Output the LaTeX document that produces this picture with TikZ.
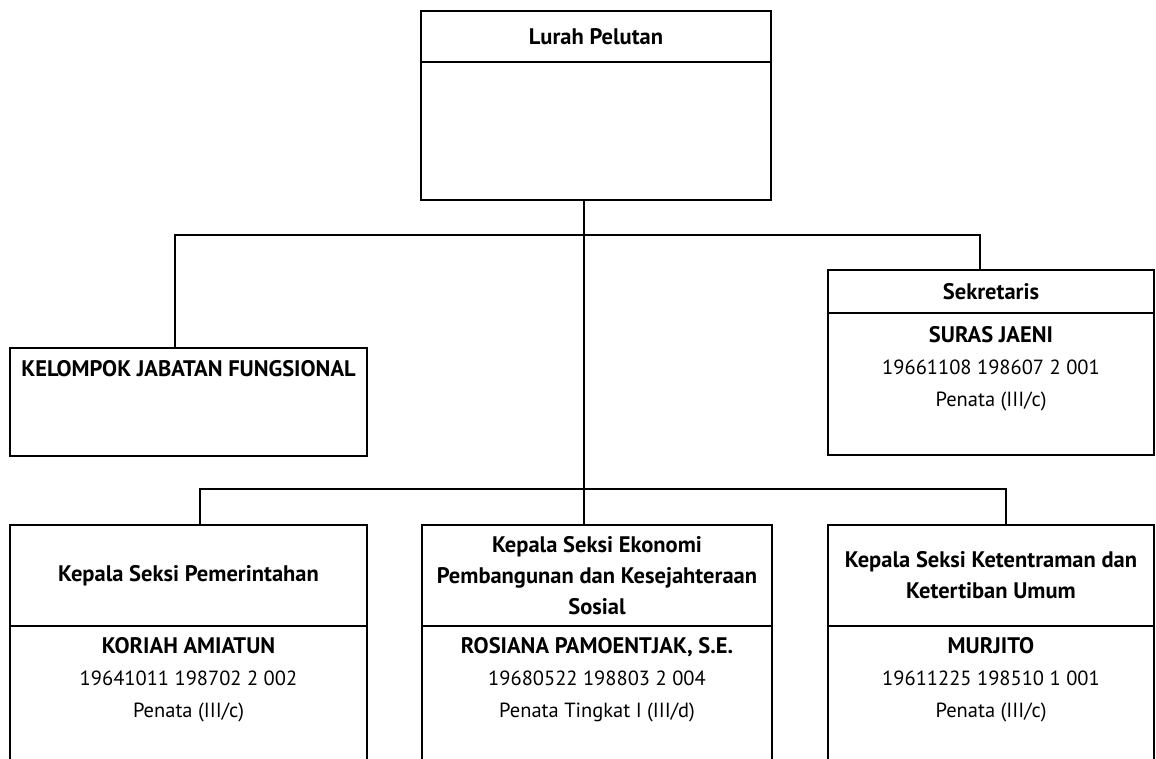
\documentclass[tikz,border=0pt]{standalone}
\usepackage{fontspec}
\setmainfont{PT Sans}
\usetikzlibrary{positioning}
\newcommand{\pname}{\fontsize{22.5}{32}\selectfont\bfseries}

\begin{document}
\begin{tikzpicture}[
    x=1pt, y=-1pt,
    node distance=0pt,
    box/.style={rectangle, draw=black, line width=2.6pt, inner sep=0pt, outer sep=0pt, align=center, font=\fontsize{22.5}{31}\selectfont\bfseries},
    info/.style={align=center, inner sep=0pt, font=\fontsize{20.5}{32}\selectfont},
    link/.style={draw=black, line width=2pt}
]
    \clip (0,0) rectangle (1156,759);

    % Nodes
    \node [box, minimum width=350pt, minimum height=51pt] (lurah) at (596,36.5) {Lurah Pelutan};
    \node [box, minimum width=350pt, minimum height=138pt, below=of lurah] (lurahbody) {};

    \node [box, minimum width=357pt, minimum height=108pt] (kjf) at (188.5,402) {};
    \node [info, font=\pname, below=12pt of kjf.north] (kjftext) {KELOMPOK JABATAN FUNGSIONAL};

    \node [box, minimum width=326pt, minimum height=43pt] (sek) at (991,291.5) {Sekretaris};
    \node [box, minimum width=326pt, minimum height=142pt, below=of sek] (sekbody) {};
    \node [info, below=13pt of sekbody.north] (sektext) {{\pname SURAS JAENI}\\19661108 198607 2 001\\Penata (III/c)};

    % Seksi
    \node [box, minimum width=357pt, minimum height=101pt] (pem) at (188.5,575.5) {Kepala Seksi Pemerintahan};
    \node [box, minimum width=357pt, minimum height=170pt, below=of pem] (pembody) {};
    \node [info, below=11pt of pembody.north] (pemtext) {{\pname KORIAH AMIATUN}\\19641011 198702 2 002\\Penata (III/c)};

    \node [box, minimum width=350pt, minimum height=101pt] (eko) at (597,575.5) {Kepala Seksi Ekonomi\\Pembangunan dan Kesejahteraan\\Sosial};
    \node [box, minimum width=350pt, minimum height=170pt, below=of eko] (ekobody) {};
    \node [info, below=11pt of ekobody.north] (ekotext) {{\pname ROSIANA PAMOENTJAK, S.E.}\\19680522 198803 2 004\\Penata Tingkat I (III/d)};

    \node [box, minimum width=326pt, minimum height=101pt] (trantib) at (991,575.5) {Kepala Seksi Ketentraman dan\\Ketertiban Umum};
    \node [box, minimum width=326pt, minimum height=170pt, below=of trantib] (trantibbody) {};
    \node [info, below=11pt of trantibbody.north] (trantibtext) {{\pname MURJITO}\\19611225 198510 1 001\\Penata (III/c)};

    % Paths
    \coordinate (upper) at (584,235);
    \coordinate (lower) at (584,489);
    \coordinate (kjfbar) at (175,235);
    \coordinate (sekbar) at (980,235);
    \coordinate (pembar) at (200,489);
    \coordinate (trantibbar) at (1006,489);

    \path [link] (lurahbody.south -| upper) -- (eko.north -| lower);
    \path [link] (kjf.north -| kjfbar) |- (sekbar) -- (sek.north -| sekbar);
    \path [link] (pem.north -| pembar) |- (trantibbar) -- (trantib.north -| trantibbar);

\end{tikzpicture}
\end{document}
